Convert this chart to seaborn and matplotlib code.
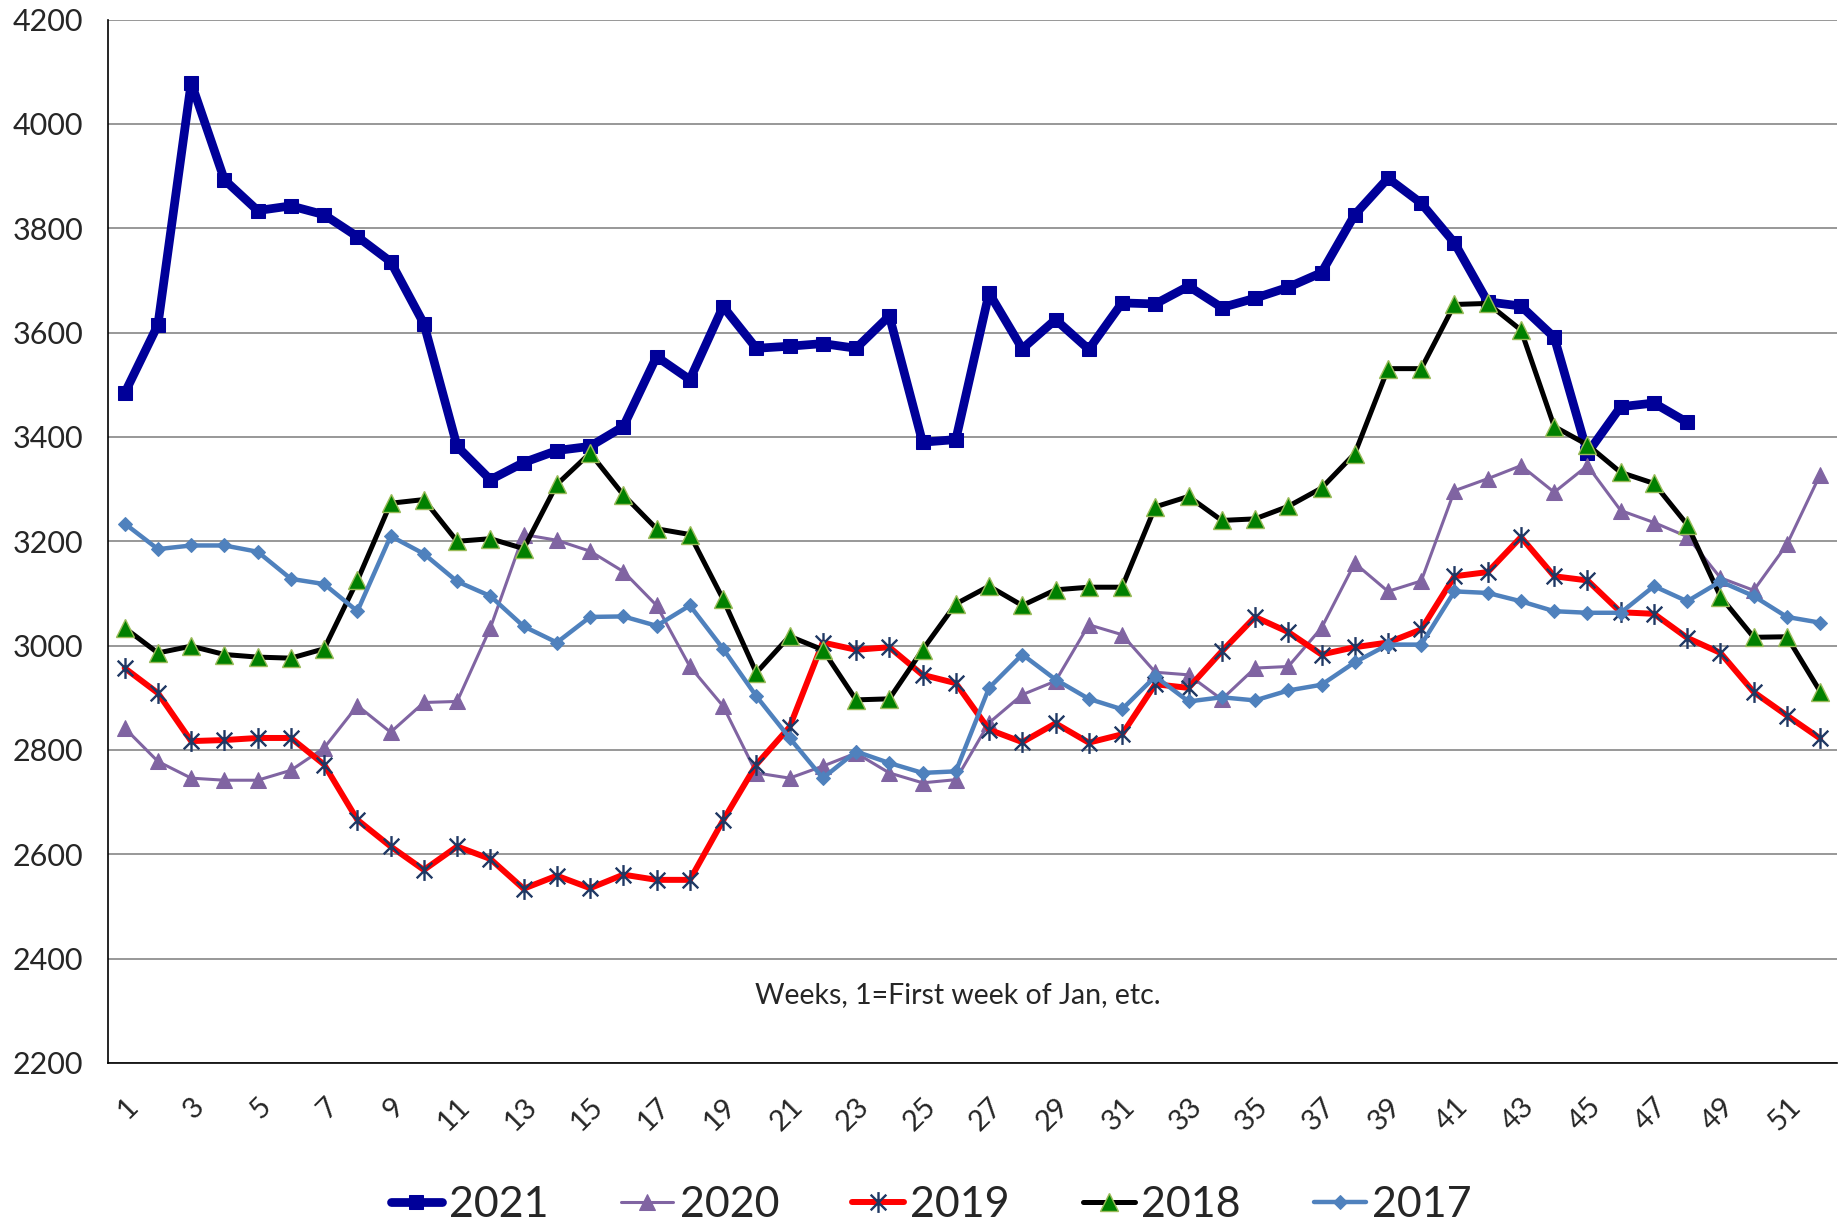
import matplotlib
matplotlib.use("Agg")
import matplotlib.pyplot as plt
from matplotlib.path import Path
from matplotlib.ticker import FixedLocator
import seaborn as sns

# weekly values (week 1 = first week of Jan)
weeks = list(range(1, 53))

y2021 = [3484, 3615, 4079, 3893, 3834, 3843, 3826, 3784, 3736, 3617,
         3382, 3318, 3351, 3374, 3382, 3420, 3554, 3510, 3650, 3570,
         3574, 3579, 3570, 3632, 3390, 3395, 3676, 3569, 3625, 3568,
         3657, 3655, 3689, 3648, 3666, 3687, 3715, 3826, 3896, 3848,
         3772, 3659, 3651, 3591, 3369, 3458, 3465, 3428]

y2020 = [2842, 2778, 2746, 2742, 2742, 2761, 2804, 2885, 2834, 2891,
         2893, 3034, 3213, 3202, 3181, 3142, 3077, 2960, 2884, 2756,
         2746, 2769, 2794, 2756, 2737, 2743, 2852, 2906, 2932, 3040,
         3021, 2949, 2944, 2897, 2957, 2960, 3034, 3158, 3104, 3124,
         3297, 3320, 3345, 3294, 3345, 3259, 3236, 3209, 3130, 3106,
         3194, 3328]

y2019 = [2957, 2909, 2817, 2819, 2823, 2823, 2772, 2666, 2615, 2570,
         2615, 2591, 2534, 2559, 2535, 2561, 2551, 2551, 2665, 2772,
         2844, 3006, 2992, 2997, 2944, 2928, 2839, 2815, 2851, 2814,
         2830, 2926, 2919, 2989, 3055, 3026, 2983, 2997, 3006, 3031,
         3133, 3141, 3208, 3133, 3125, 3064, 3061, 3015, 2986, 2911,
         2866, 2822]

y2018 = [3034, 2986, 2999, 2983, 2978, 2976, 2994, 3125, 3273, 3280,
         3200, 3205, 3186, 3309, 3369, 3289, 3224, 3213, 3089, 2948,
         3018, 2992, 2896, 2898, 2992, 3080, 3114, 3077, 3107, 3112,
         3112, 3266, 3286, 3240, 3243, 3267, 3302, 3368, 3531, 3531,
         3654, 3656, 3605, 3420, 3385, 3332, 3311, 3232, 3094, 3016,
         3017, 2912]

y2017 = [3234, 3185, 3192, 3192, 3180, 3128, 3118, 3066, 3210, 3176,
         3123, 3095, 3037, 3006, 3055, 3056, 3038, 3077, 2994, 2903,
         2823, 2746, 2797, 2775, 2756, 2759, 2919, 2983, 2935, 2898,
         2878, 2941, 2893, 2901, 2895, 2914, 2925, 2968, 3002, 3002,
         3104, 3101, 3085, 3066, 3063, 3063, 3114, 3085, 3123, 3095,
         3055, 3044]

y_ticks = list(range(2200, 4201, 200))
x_labels = list(range(1, 53, 2))

sns.set_style("white")
plt.rcParams["font.family"] = ["Lato", "DejaVu Sans"]

fig = plt.figure(figsize=(18.44, 12.28), dpi=100)
ax = fig.add_axes([0.0586, 0.1344, 0.9375, 0.8496])

# Excel style star marker: vertical bar plus an X
star = Path([(0, -1), (0, 1), (-0.75, -0.75), (0.75, 0.75), (-0.75, 0.75), (0.75, -0.75)],
            [Path.MOVETO, Path.LINETO, Path.MOVETO, Path.LINETO, Path.MOVETO, Path.LINETO])

sns.lineplot(x=weeks[:len(y2021)], y=y2021, ax=ax, color="#000099", linewidth=6.3,
             marker="s", markersize=10, markeredgecolor="#000099", label="2021")
sns.lineplot(x=weeks, y=y2020, ax=ax, color="#8064A2", linewidth=2.2,
             marker="^", markersize=11, markeredgecolor="#8064A2", label="2020")
sns.lineplot(x=weeks, y=y2019, ax=ax, color="#FF0000", linewidth=4.3,
             marker=star, markersize=15, markeredgecolor="#1F3864",
             markerfacecolor="none", markeredgewidth=1.7, label="2019")
sns.lineplot(x=weeks, y=y2018, ax=ax, color="#000000", linewidth=3.6,
             marker="^", markersize=13, markerfacecolor="#008000",
             markeredgecolor="#9BBB59", markeredgewidth=1, label="2018")
sns.lineplot(x=weeks, y=y2017, ax=ax, color="#4F81BD", linewidth=3.2,
             marker="D", markersize=7.5, markeredgecolor="#4F81BD", label="2017")

ax.set_xlim(0.5, 52.5)
ax.set_ylim(2200, 4200)
ax.set_yticks(y_ticks)
ax.set_yticklabels([str(v) for v in y_ticks], fontsize=22)
ax.yaxis.grid(True, color="#868686", linewidth=1.2)
ax.set_axisbelow(True)

ax.set_xticks(x_labels)
ax.set_xticklabels([str(v) for v in x_labels], fontsize=21, rotation=45,
                   ha="right", rotation_mode="anchor")
ax.xaxis.set_minor_locator(FixedLocator([w - 0.5 for w in weeks] + [52.5]))
ax.tick_params(axis="x", which="major", length=0, pad=22)
ax.tick_params(axis="x", which="minor", length=8, width=1, color="black", direction="out")
ax.tick_params(axis="y", which="major", length=6, width=1, color="black", direction="out", pad=12)
ax.set_xlabel("")
ax.set_ylabel("")

for side in ["top", "right"]:
    ax.spines[side].set_visible(False)
for side in ["left", "bottom"]:
    ax.spines[side].set_color("black")
    ax.spines[side].set_linewidth(1.2)

ax.text(26.05, 2330, "Weeks, 1=First week of Jan, etc.", ha="center", va="center", fontsize=20.5)

handles, labels = ax.get_legend_handles_labels()
ax.get_legend().remove()
fig.legend(handles, labels, loc="lower center", bbox_to_anchor=(0.505, -0.028), ncol=5,
           frameon=False, fontsize=31, handlelength=1.2, handletextpad=0.15,
           columnspacing=1.7)

fig.savefig("out.png", dpi=100)
